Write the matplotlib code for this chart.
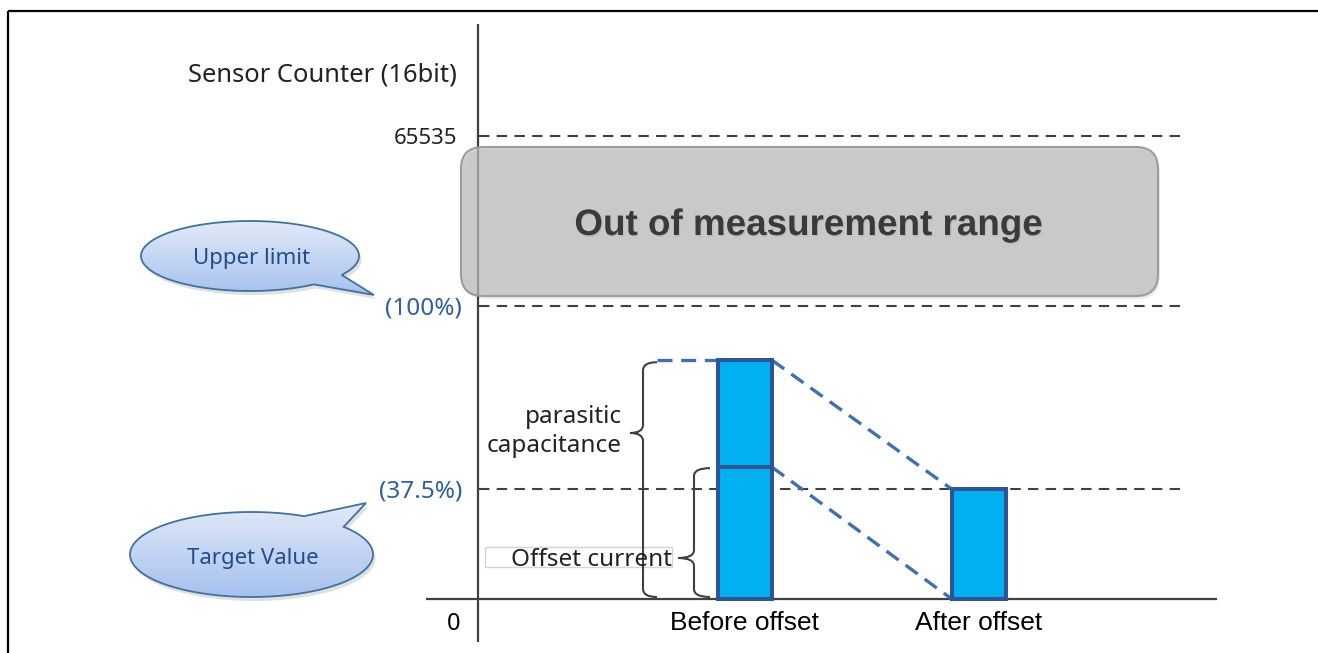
import matplotlib
matplotlib.use("Agg")
import matplotlib.pyplot as plt
import numpy as np
from matplotlib.patches import Polygon, Rectangle, FancyBboxPatch, PathPatch
from matplotlib.path import Path
from matplotlib.colors import LinearSegmentedColormap
import matplotlib.patheffects as pe

plt.rcParams['font.family'] = ['Noto Sans', 'DejaVu Sans']

# ---------------- data ----------------
categories = ["Before offset", "After offset"]
offset_current = [45.0, 0.0]           # % of upper limit
parasitic_capacitance = [36.5, 37.5]   # % of upper limit
ref_levels = [37.5, 100.0, 158.0]
ref_labels = ["(37.5%)", "(100%)", "65535"]
axis_title = "Sensor Counter (16bit)"
zero_label = "0"
out_of_range_label = "Out of measurement range"
callout_labels = ["Upper limit", "Target Value"]
brace_labels = [["parasitic", "capacitance"], ["Offset current"]]

# ---------------- layout (pixels) ----------------
W, H = 1318, 653
X0_PX, X_STEP_PX = 745.0, 233.75     # centre of first category, spacing
Y0_PX, Y_PER_UNIT = 599.0, 2.93      # pixel row of value 0, px per %
BAR_W = 0.231

fig = plt.figure(figsize=(W / 100, H / 100), dpi=100)
deco = fig.add_axes([0, 0, 1, 1])
deco.axis('off')
ax = fig.add_axes([0, 0, 1, 1])
ax.axis('off')
ax.patch.set_alpha(0)
ax.set_xlim((0 - X0_PX) / X_STEP_PX, (W - X0_PX) / X_STEP_PX)
ax.set_ylim(-(H - Y0_PX) / Y_PER_UNIT, Y0_PX / Y_PER_UNIT)


def xd(px):
    return (px - X0_PX) / X_STEP_PX


def py(v):
    return Y0_PX - v * Y_PER_UNIT


AX_COL = '#404040'
BLUE_TXT = '#2f5f9e'

# frame border
deco.add_patch(Rectangle((8, 11), 1400, 800, fill=False, ec='black', lw=1.6, zorder=1))

# y axis line (under the grey box)
deco.plot([478, 478], [24, 642], color=AX_COL, lw=1.6, zorder=1, solid_capstyle='butt')

# x axis line
ax.hlines(0, xd(426), xd(1217), color=AX_COL, lw=1.6, zorder=3)

# reference dashed lines
ax.hlines(ref_levels, xd(479), xd(1187), colors=AX_COL, lw=1.5,
          linestyles=[(0, (5, 3.5))], zorder=2)

# y labels
label_colors = [BLUE_TXT, BLUE_TXT, '#222222']
label_sizes = [17.5, 17.5, 16]
label_right = [462, 462, 457]
for lvl, lab, c, s, xr in zip(ref_levels, ref_labels, label_colors, label_sizes, label_right):
    deco.text(xr, py(lvl) + 8, lab, ha='right', va='baseline', fontsize=s, color=c)
deco.text(457, 82, axis_title, ha='right', va='baseline', fontsize=18.4, color='#222222')
deco.text(454, 630, zero_label, ha='center', va='baseline', fontsize=17, color='black')

# grey "out of range" box
deco.add_patch(FancyBboxPatch((463, 150), 697, 149, boxstyle='round,pad=0,rounding_size=22',
                              fc=(0, 0, 0, 0.08), ec='none', zorder=2))
deco.add_patch(FancyBboxPatch((461, 147), 697, 149, boxstyle='round,pad=0,rounding_size=22',
                              fc=(0.74, 0.74, 0.74, 0.72), ec='#9c9c9c', lw=1.5, zorder=3))
deco.text(808, 235, out_of_range_label, ha='center', va='baseline', fontsize=26.5,
          fontweight='bold', family='Liberation Sans', color='#3a3a3a', zorder=4,
          path_effects=[pe.withSimplePatchShadow(offset=(0.8, -1.2), shadow_rgbFace='#888888', alpha=0.2)])

# callouts
grad_cmap = LinearSegmentedColormap.from_list('callout', ['#e2eaf8', '#a6c1ee'])


def callout(cx, cy, a, b, p1, p2, tip, text, base_y):
    t1 = np.arctan2((p1[1] - cy) / b, (p1[0] - cx) / a)
    t2 = np.arctan2((p2[1] - cy) / b, (p2[0] - cx) / a)
    lo, hi = sorted([t1, t2])
    if hi - lo < np.pi:
        ts = np.linspace(hi, lo + 2 * np.pi, 300)
    else:
        ts = np.linspace(lo, hi, 300)
    pts = np.column_stack([cx + a * np.cos(ts), cy + b * np.sin(ts)])
    pts = np.vstack([pts, tip])
    deco.add_patch(Polygon(pts + np.array([2.5, 4]), closed=True, fc='black', alpha=0.12,
                           ec='none', zorder=2))
    poly = Polygon(pts, closed=True, fc='none', ec='#41719c', lw=1.3, zorder=4)
    deco.add_patch(poly)
    grad = np.linspace(0, 1, 256).reshape(-1, 1)
    im = deco.imshow(grad, cmap=grad_cmap, aspect='auto', origin='upper', interpolation='bilinear',
                     extent=[pts[:, 0].min(), pts[:, 0].max(), pts[:, 1].max(), pts[:, 1].min()],
                     zorder=3)
    im.set_clip_path(poly)
    deco.text(cx + 1.5, base_y, text, ha='center', va='baseline', fontsize=16,
              color='#1f4e8c', zorder=5)


callout(250, 256, 109, 35, (342, 275), (313, 284), (374, 295), callout_labels[0], 264)
callout(251.5, 554.5, 121.5, 42.5, (303, 517), (343, 527), (366, 503), callout_labels[1], 564)

# bars
xs = np.arange(len(categories))
bar_kw = dict(width=BAR_W, color='#00b0f0', edgecolor='#2f5597', linewidth=2.9, zorder=6)
for i in range(len(categories)):
    if offset_current[i] > 0:
        ax.bar(xs[i], offset_current[i], **bar_kw)
    if parasitic_capacitance[i] > 0:
        ax.bar(xs[i], parasitic_capacitance[i], bottom=offset_current[i], **bar_kw)

# category labels
for i, c in enumerate(categories):
    ax.annotate(c, (xs[i], 0), xytext=(0, -31), textcoords='offset pixels',
                ha='center', va='baseline', fontsize=19, family='Liberation Sans', color='black')

# blue dashed connectors
tops = [o + p for o, p in zip(offset_current, parasitic_capacitance)]
dash_kw = dict(color='#4070b0', lw=2.4, ls=(0, (4.5, 2.6)), zorder=4)
ax.plot([xs[0] + BAR_W / 2, xs[1] - BAR_W / 2], [tops[0], tops[1]], **dash_kw)
ax.plot([xs[0] + BAR_W / 2, xs[1] - BAR_W / 2], [offset_current[0], offset_current[1]], **dash_kw)
ax.plot([xd(657), xs[0] - BAR_W / 2], [tops[0], tops[0]], **dash_kw)


# braces
def brace(x, yt, yb, ym, tip, notch, r=8):
    verts = [(x + tip, yt), (x, yt), (x, yt + r), (x, ym - r), (x, ym), (x - notch, ym),
             (x, ym), (x, ym + r), (x, yb - r), (x, yb), (x + tip, yb)]
    codes = [Path.MOVETO, Path.CURVE3, Path.CURVE3, Path.LINETO, Path.CURVE3, Path.CURVE3,
             Path.CURVE3, Path.CURVE3, Path.LINETO, Path.CURVE3, Path.CURVE3]
    deco.add_patch(PathPatch(Path(verts, codes), fc='none', ec=AX_COL, lw=1.5, zorder=4))


brace(643, py(tops[0]) + 2, py(0) - 2, 433, 14, 13)
brace(694, py(offset_current[0]) + 1, py(0) - 2, 558, 16, 16)

deco.text(622, 423, brace_labels[0][0], ha='right', va='baseline', fontsize=17.5, color='#222222')
deco.text(622, 452, brace_labels[0][1], ha='right', va='baseline', fontsize=17.5, color='#222222')
deco.add_patch(Rectangle((485, 547), 187, 20, fc='white', ec='#d5d5d5', lw=1, zorder=3))
deco.text(672, 566, brace_labels[1][0], ha='right', va='baseline', fontsize=17.5,
          color='#222222', zorder=4)

deco.set_xlim(0, W)
deco.set_ylim(H, 0)

fig.savefig('out.png', dpi=100)
